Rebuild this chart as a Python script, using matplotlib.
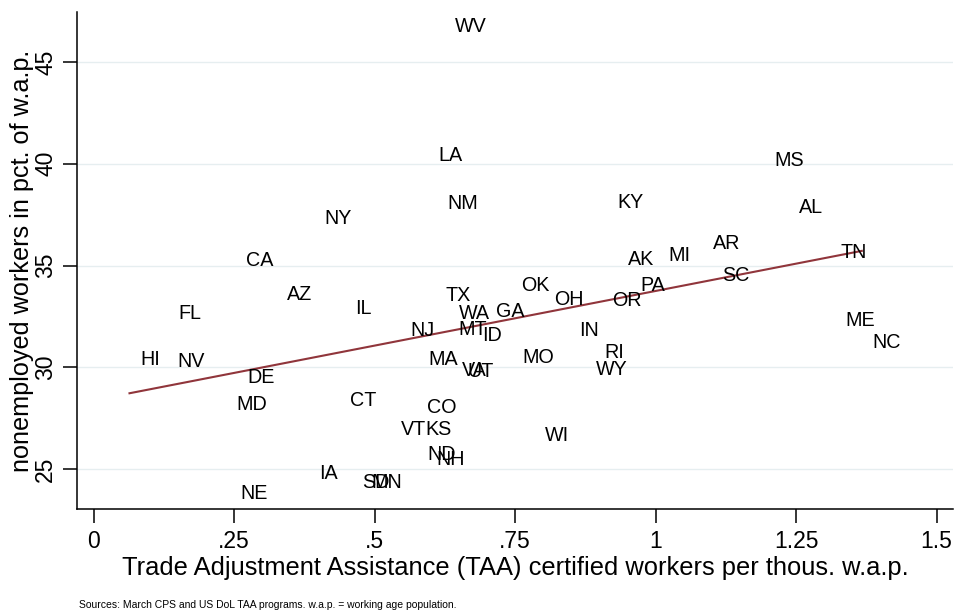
import numpy as np
import matplotlib
matplotlib.use("Agg")
import matplotlib.pyplot as plt

plt.rcParams['font.family'] = ['Liberation Sans', 'DejaVu Sans']

# State labels and data values (TAA certified workers per thous. w.a.p., nonemployed pct.)
states = ["CA", "AZ", "FL", "IL", "HI", "NV", "DE", "MD", "CT", "NE",
          "WV", "LA", "NM", "NY", "KY", "AL", "AR", "TN", "AK", "MI",
          "SC", "PA", "OR", "OH", "ME", "NC", "MS", "TX", "OK", "WA",
          "GA", "NJ", "MT", "ID", "IN", "MO", "MA", "VA", "UT", "RI",
          "WY", "WI", "CO", "VT", "KS", "ND", "NH", "SD", "MN", "IA"]
taa = [0.252, 0.325, 0.132, 0.446, 0.064, 0.129, 0.254, 0.234, 0.437, 0.241,
       0.624, 0.594, 0.610, 0.391, 0.913, 1.235, 1.083, 1.310, 0.932, 1.004,
       1.099, 0.954, 0.904, 0.800, 1.318, 1.367, 1.192, 0.606, 0.742, 0.631,
       0.696, 0.544, 0.630, 0.671, 0.844, 0.744, 0.577, 0.636, 0.646, 0.889,
       0.875, 0.784, 0.574, 0.527, 0.570, 0.574, 0.591, 0.458, 0.475, 0.382]
nonemp = [35.26, 33.57, 32.63, 32.91, 30.37, 30.28, 29.52, 28.20, 28.36, 23.82,
          46.72, 40.42, 38.06, 37.32, 38.10, 37.86, 36.06, 35.62, 35.31, 35.48,
          34.53, 34.01, 33.30, 33.35, 32.32, 31.24, 40.14, 33.52, 34.01, 32.66,
          32.73, 31.83, 31.85, 31.55, 31.80, 30.48, 30.40, 29.84, 29.78, 30.73,
          29.91, 26.67, 28.02, 26.95, 26.97, 25.74, 25.50, 24.35, 24.35, 24.81]

x_ticks = [0, 0.25, 0.5, 0.75, 1, 1.25, 1.5]
x_ticklabels = ["0", ".25", ".5", ".75", "1", "1.25", "1.5"]
y_ticks = [25, 30, 35, 40, 45]

fig = plt.figure(figsize=(9.56, 6.12), dpi=100)
ax = fig.add_axes([0.0809, 0.1683, 0.9160, 0.8121])

x = np.array(taa)
y = np.array(nonemp)

# invisible markers, labels to the right
ax.scatter(x, y, s=0, alpha=0)
for s, xi, yi in zip(states, x, y):
    ax.annotate(s, (xi, yi), xytext=(11, 0), textcoords='offset pixels',
                ha='left', va='center', fontsize=14.2, color='black')

# linear fit
b, a = np.polyfit(x, y, 1)
xf = np.array([x.min(), x.max()])
ax.plot(xf, a + b * xf, color='#90353B', lw=1.5)

ax.set_xlim(-0.0288, 1.5293)
ax.set_ylim(23.05, 47.45)
ax.set_xticks(x_ticks)
ax.set_xticklabels(x_ticklabels)
ax.set_yticks(y_ticks)
ax.set_yticklabels([str(v) for v in y_ticks], rotation=90, va='center')
ax.tick_params(axis='both', length=10, width=1.1, labelsize=16.5, direction='out')
ax.tick_params(axis='x', pad=5)
ax.tick_params(axis='y', pad=4.5)

ax.yaxis.grid(True, color='#e6eef0', lw=1.0)
ax.set_axisbelow(True)
for side in ['top', 'right']:
    ax.spines[side].set_visible(False)
for side in ['left', 'bottom']:
    ax.spines[side].set_linewidth(1.1)

ax.set_xlabel("Trade Adjustment Assistance (TAA) certified workers per thous. w.a.p.",
              fontsize=18.4, labelpad=2)
ax.set_ylabel("nonemployed workers in pct. of w.a.p.", fontsize=18.2)
ax.yaxis.set_label_coords(-0.0495, 0.50)

fig.text(79 / 956, 1 - 605 / 612, "Sources: March CPS and US DoL TAA programs. w.a.p. = working age population.",
         fontsize=7.5, ha='left', va='center')

fig.savefig("out.png", dpi=100)
